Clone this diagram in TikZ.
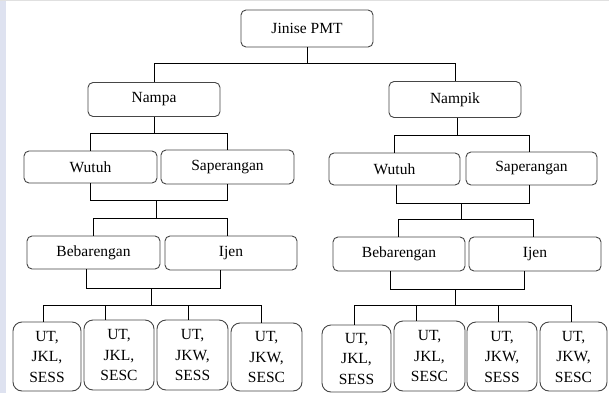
\documentclass[tikz,border=0pt]{standalone}
\usepackage{fontspec}
\setmainfont{Liberation Serif}
\definecolor{boxline}{RGB}{70,70,70}
\definecolor{strip}{RGB}{222,226,240}
\begin{document}
\begin{tikzpicture}[x=1pt,y=-1pt,
  box/.style={draw=boxline, line width=0.9pt, rounded corners=5pt, inner sep=0pt,
    font=\fontsize{15.5}{20.5}\selectfont, align=center},
  utbox/.style={box, rounded corners=9pt},
  conn/.style={draw=black, line width=0.8pt}]
\useasboundingbox (0,0) rectangle (609,393);
\fill[white] (0,0) rectangle (609,393);
\fill[strip] (0,0) rectangle (6,393);
\fill[black!12] (0,0) rectangle (609,1.2);
% level 0-1
\node[box, minimum width=132pt, minimum height=37pt] (jin) at (307,28.5) {Jinise PMT};
\node[box, minimum width=132pt, minimum height=34pt] (nampa) at (154,99.5) {Nampa};
\node[box, minimum width=132pt, minimum height=36pt] (nampik) at (455,99.5) {Nampik};
% level 2
\node[box, minimum width=133pt, minimum height=32pt] (lwut) at (90.5,167) {Wutuh};
\node[box, minimum width=133pt, minimum height=34pt] (lsap) at (227.5,167) {Saperangan};
\node[box, minimum width=131pt, minimum height=32pt] (rwut) at (394.5,169) {Wutuh};
\node[box, minimum width=131pt, minimum height=33pt] (rsap) at (531.5,168.5) {Saperangan};
% level 3
\node[box, minimum width=133pt, minimum height=33pt] (lbeb) at (93.5,252.5) {Bebarengan};
\node[box, minimum width=132pt, minimum height=34pt] (lijen) at (231,253) {Ijen};
\node[box, minimum width=132pt, minimum height=34pt] (rbeb) at (399,254) {Bebarengan};
\node[box, minimum width=132pt, minimum height=34pt] (rijen) at (535,254) {Ijen};
% level 4 left
\node[utbox, minimum width=68pt, minimum height=69pt] (lu1) at (47,356.5) {UT,\\JKL,\\SESS};
\node[utbox, minimum width=70pt, minimum height=70pt] (lu2) at (119,355) {UT,\\JKL,\\SESC};
\node[utbox, minimum width=71pt, minimum height=70pt] (lu3) at (192.5,355) {UT,\\JKW,\\SESS};
\node[utbox, minimum width=71pt, minimum height=68pt] (lu4) at (266.5,357) {UT,\\JKW,\\SESC};
% level 4 right
\node[utbox, minimum width=69pt, minimum height=67pt] (ru1) at (356.5,358.5) {UT,\\JKL,\\SESS};
\node[utbox, minimum width=71pt, minimum height=70pt] (ru2) at (429.5,356) {UT,\\JKL,\\SESC};
\node[utbox, minimum width=70pt, minimum height=69pt] (ru3) at (502,356.5) {UT,\\JKW,\\SESS};
\node[utbox, minimum width=67pt, minimum height=69pt] (ru4) at (573.5,356.5) {UT,\\JKW,\\SESC};
% connectors level 0 -> 1
\draw[conn] (jin.south) -- (jin.south |- 0,63);
\draw[conn] (nampa.north) -- (nampa.north |- 0,63) -- (nampik.north |- 0,63) -- (nampik.north);
% left: Nampa -> Wutuh/Saperangan
\draw[conn] (nampa.south) -- (nampa.south |- 0,133);
\draw[conn] (lwut.north) -- (lwut.north |- 0,133) -- (lsap.north |- 0,133) -- (lsap.north);
% left: Wutuh/Saperangan -> Bebarengan/Ijen
\draw[conn] (lwut.south) -- (lwut.south |- 0,200) -- (lsap.south |- 0,200) -- (lsap.south);
\coordinate (lj1) at (156,200);
\draw[conn] (lj1) -- (156,218);
\draw[conn] (lbeb.north) -- (lbeb.north |- 0,218) -- (227,218) -- (lijen.north -| 227,0);
% left: Bebarengan/Ijen -> UT boxes
\draw[conn] (lbeb.south -| 86,0) -- (86,288) -- (220,288) -- (lijen.south -| 220,0);
\coordinate (lj2) at (151,288);
\draw[conn] (lj2) -- (151,305);
\draw[conn] (lu1.north -| 43,0) -- (43,305) -- (261,305) -- (lu4.north -| 261,0);
\draw[conn] (105,305) -- (lu2.north -| 105,0);
\draw[conn] (188,305) -- (lu3.north -| 188,0);
% right: Nampik -> Wutuh/Saperangan
\draw[conn] (nampik.south -| 457,0) -- (457,135);
\draw[conn] (rwut.north) -- (rwut.north |- 0,135) -- (529,135) -- (rsap.north -| 529,0);
% right: Wutuh/Saperangan -> Bebarengan/Ijen
\draw[conn] (rwut.south -| 396,0) -- (396,203) -- (529,203) -- (rsap.south -| 529,0);
\coordinate (rj1) at (461,203);
\draw[conn] (rj1) -- (461,219);
\draw[conn] (rbeb.north -| 398,0) -- (398,219) -- (533,219) -- (rijen.north -| 533,0);
% right: Bebarengan/Ijen -> UT boxes
\draw[conn] (rbeb.south -| 390,0) -- (390,289) -- (524,289) -- (rijen.south -| 524,0);
\coordinate (rj2) at (455,289);
\draw[conn] (rj2) -- (455,305);
\draw[conn] (ru1.north -| 354,0) -- (354,305) -- (571,305) -- (ru4.north -| 571,0);
\draw[conn] (416,305) -- (ru2.north -| 416,0);
\draw[conn] (498,305) -- (ru3.north -| 498,0);
\end{tikzpicture}
\end{document}
